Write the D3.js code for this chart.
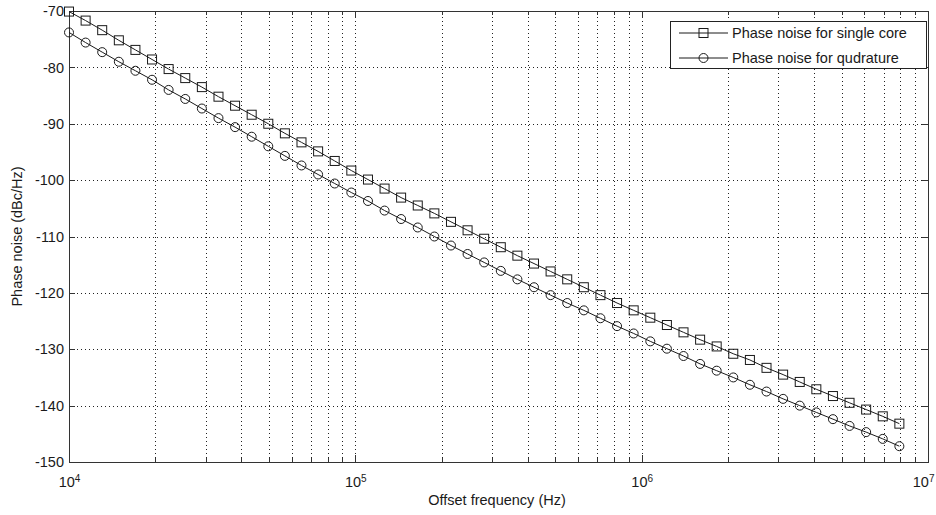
<!DOCTYPE html>
<html>
<head>
<meta charset="utf-8">
<script src="https://cdn.jsdelivr.net/npm/d3@7"></script>
<style>
  html, body { margin: 0; padding: 0; background: #fff; }
  svg { display: block; font-family: "Liberation Sans", Arial, Helvetica, sans-serif; }
</style>
</head>
<body>
<svg id="chart" width="936" height="515"></svg>
<script>
// Offset frequencies (Hz), log-spaced sweep points
const freqHz = [
  10000, 11430, 13060, 14930, 17060, 19500, 22280, 25470, 29110, 33270,
  38020, 43450, 49660, 56750, 64860, 74130, 84720, 96830, 110700, 126500,
  144500, 165200, 188800, 215800, 246600, 281800, 322100, 368100, 420700, 480800,
  549500, 628100, 717800, 820400, 937600, 1072000, 1225000, 1400000, 1600000, 1828000,
  2089000, 2388000, 2729000, 3119000, 3565000, 4074000, 4656000, 5321000, 6081000, 6950000,
  7943000
];

// Phase noise of a single oscillator core (dBc/Hz)
const singleCore = [
  -70.1, -71.7, -73.4, -75.2, -76.9, -78.6, -80.3, -81.9, -83.5, -85.2,
  -86.8, -88.4, -90.0, -91.7, -93.3, -94.9, -96.6, -98.3, -99.9, -101.5,
  -103.1, -104.5, -105.9, -107.4, -108.9, -110.4, -111.9, -113.4, -114.8, -116.2,
  -117.6, -119.0, -120.4, -121.8, -123.1, -124.4, -125.7, -127.0, -128.3, -129.5,
  -130.8, -131.9, -133.3, -134.5, -135.8, -137.1, -138.3, -139.5, -140.7, -141.9,
  -143.2
];

// Phase noise of the quadrature oscillator (dBc/Hz)
const quadrature = [
  -73.8, -75.6, -77.3, -79.0, -80.6, -82.2, -84.0, -85.6, -87.3, -89.0,
  -90.6, -92.3, -94.0, -95.7, -97.4, -99.0, -100.6, -102.2, -103.7, -105.4,
  -106.9, -108.4, -110.0, -111.6, -113.1, -114.6, -116.1, -117.6, -119.0, -120.4,
  -121.8, -123.1, -124.5, -125.9, -127.2, -128.6, -129.9, -131.2, -132.6, -133.8,
  -135.0, -136.3, -137.5, -138.8, -140.0, -141.2, -142.4, -143.6, -144.7, -145.9,
  -147.2
];

// Axis ticks
const xTickExponents = [4, 5, 6, 7];
const yTicks = [-150, -140, -130, -120, -110, -100, -90, -80, -70];
const seriesNames = ["Phase noise for single core", "Phase noise for qudrature"];

const frame = { left: 69, right: 928, top: 11, bottom: 462 };
const ink = "#1a1a1a";
const fontSize = 14.5;

const svg = d3.select("#chart");

const x = d3.scaleLog().domain([1e4, 1e7]).range([frame.left, frame.right]);
const y = d3.scaleLinear().domain([-150, -70]).range([frame.bottom, frame.top]);

const majorX = xTickExponents.map(e => Math.pow(10, e));
const minorX = [];
xTickExponents.slice(0, -1).forEach(e => {
  for (let m = 2; m <= 9; m++) minorX.push(m * Math.pow(10, e));
});

const plotH = frame.bottom - frame.top;
const plotW = frame.right - frame.left;

// Dotted grid
const grid = svg.append("g").attr("class", "grid");
grid.append("g")
  .attr("transform", `translate(0,${frame.bottom})`)
  .call(d3.axisBottom(x).tickValues(majorX.concat(minorX)).tickSize(-plotH).tickFormat(""));
grid.append("g")
  .attr("transform", `translate(${frame.left},0)`)
  .call(d3.axisLeft(y).tickValues(yTicks).tickSize(-plotW).tickFormat(""));
grid.selectAll(".domain").remove();
grid.selectAll("line")
  .attr("stroke", "#222")
  .attr("stroke-width", 1)
  .attr("stroke-dasharray", "1,3")
  .attr("shape-rendering", "crispEdges");

// Axes box
svg.append("rect")
  .attr("x", frame.left).attr("y", frame.top)
  .attr("width", plotW).attr("height", plotH)
  .attr("fill", "none").attr("stroke", "#333").attr("stroke-width", 1)
  .attr("shape-rendering", "crispEdges");

function styleAxis(g) {
  g.select(".domain").remove();
  g.selectAll("line").attr("stroke", "#333").attr("shape-rendering", "crispEdges");
  g.selectAll("text").attr("fill", ink).attr("font-size", fontSize)
    .attr("font-family", "\"Liberation Sans\", Arial, Helvetica, sans-serif");
}

// Bottom axis: major ticks with power-of-ten labels
const xAxisG = svg.append("g")
  .attr("transform", `translate(0,${frame.bottom})`)
  .call(d3.axisBottom(x).tickValues(majorX).tickSize(-7).tickPadding(15).tickFormat(d => d))
  .call(styleAxis);
xAxisG.selectAll("text").each(function(d, i, nodes) {
  const t = d3.select(this).text(null);
  t.append("tspan").text("10");
  t.append("tspan").attr("dy", "-0.5em").attr("font-size", 10).text(Math.round(Math.log10(d)));
  // keep the last label inside the figure's right edge
  if (i === nodes.length - 1) t.attr("text-anchor", "end").attr("x", 6);
});
// Bottom minor ticks
svg.append("g")
  .attr("transform", `translate(0,${frame.bottom})`)
  .call(d3.axisBottom(x).tickValues(minorX).tickSize(-4).tickFormat(""))
  .call(styleAxis);

// Top mirrored ticks
svg.append("g")
  .attr("transform", `translate(0,${frame.top})`)
  .call(d3.axisTop(x).tickValues(majorX).tickSize(-7).tickFormat(""))
  .call(styleAxis);
svg.append("g")
  .attr("transform", `translate(0,${frame.top})`)
  .call(d3.axisTop(x).tickValues(minorX).tickSize(-4).tickFormat(""))
  .call(styleAxis);

// Left axis with labels (plain hyphen for the minus sign)
svg.append("g")
  .attr("transform", `translate(${frame.left},0)`)
  .call(d3.axisLeft(y).tickValues(yTicks).tickSize(-6).tickPadding(5).tickFormat(d => String(d)))
  .call(styleAxis);
// Right mirrored ticks
svg.append("g")
  .attr("transform", `translate(${frame.right},0)`)
  .call(d3.axisRight(y).tickValues(yTicks).tickSize(-6).tickFormat(""))
  .call(styleAxis);

// Axis titles
svg.append("text")
  .attr("x", 497).attr("y", 505)
  .attr("text-anchor", "middle")
  .attr("font-size", fontSize).attr("fill", ink)
  .text("Offset frequency (Hz)");
svg.append("text")
  .attr("transform", `translate(22,${(frame.top + frame.bottom) / 2}) rotate(-90)`)
  .attr("text-anchor", "middle")
  .attr("font-size", fontSize).attr("fill", ink)
  .text("Phase noise (dBc/Hz)");

// Series
const seriesList = [
  { name: seriesNames[0], values: singleCore, marker: "square" },
  { name: seriesNames[1], values: quadrature, marker: "circle" }
];

const line = d3.line()
  .x(d => x(d.f))
  .y(d => y(d.v));

function drawMarker(sel, kind) {
  if (kind === "square") {
    sel.append("rect")
      .attr("x", -4.5).attr("y", -4.5).attr("width", 9).attr("height", 9)
      .attr("fill", "none").attr("stroke", ink).attr("stroke-width", 1);
  } else {
    sel.append("circle")
      .attr("r", 4.5)
      .attr("fill", "none").attr("stroke", ink).attr("stroke-width", 1);
  }
}

seriesList.forEach(s => {
  const pts = freqHz.map((f, i) => ({ f, v: s.values[i] }));
  const g = svg.append("g").attr("class", "series");
  g.append("path")
    .datum(pts)
    .attr("d", line)
    .attr("fill", "none")
    .attr("stroke", ink)
    .attr("stroke-width", 1);
  g.selectAll("g.marker")
    .data(pts)
    .join("g")
    .attr("class", "marker")
    .attr("transform", d => `translate(${x(d.f)},${y(d.v)})`)
    .each(function() { drawMarker(d3.select(this), s.marker); });
});

// Legend
const legend = { x: 670, y: 21, w: 256, h: 47 };
const lg = svg.append("g").attr("class", "legend");
lg.append("rect")
  .attr("x", legend.x).attr("y", legend.y)
  .attr("width", legend.w).attr("height", legend.h)
  .attr("fill", "#fff").attr("stroke", "#222").attr("stroke-width", 1)
  .attr("shape-rendering", "crispEdges");
const rowY = [33, 58];
seriesList.forEach((s, i) => {
  const row = lg.append("g").attr("transform", `translate(0,${rowY[i]})`);
  row.append("line")
    .attr("x1", 679).attr("x2", 728).attr("y1", 0).attr("y2", 0)
    .attr("stroke", ink).attr("stroke-width", 1);
  const m = row.append("g").attr("transform", "translate(703.5,0)");
  drawMarker(m, s.marker);
  row.append("text")
    .attr("x", 732).attr("y", 5)
    .attr("font-size", fontSize).attr("fill", ink)
    .text(s.name);
});
</script>
</body>
</html>
